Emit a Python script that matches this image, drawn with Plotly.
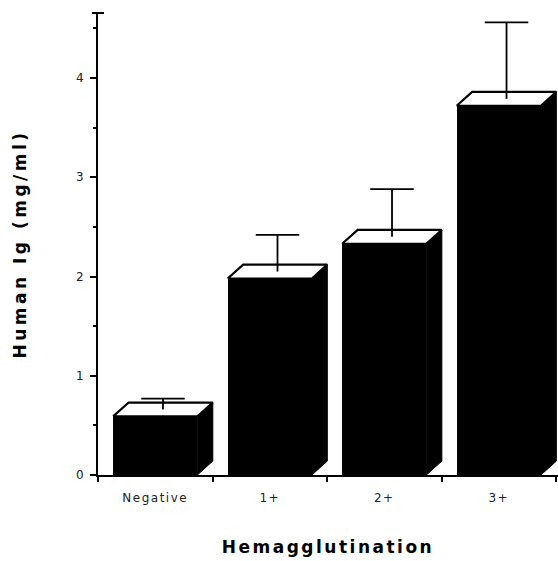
import plotly.graph_objects as go

# ---- data ----
categories = ["Negative", "1+", "2+", "3+"]
means = [0.59, 1.98, 2.33, 3.72]          # front-top height of each bar (mg/ml)
errors = [0.18, 0.44, 0.55, 0.84]         # upper error (cap above bar front top)
y_ticks = [0, 1, 2, 3, 4]

# ---- styling / geometry (not data) ----
BAR_W = 0.735      # front face width in category units
DX = 0.135         # 3-D depth, x (category units)
DY = 0.14          # 3-D depth, y (data units)
CAP = 0.19         # half width of error cap

fig = go.Figure()
xs = list(range(len(categories)))

# front faces
fig.add_trace(go.Bar(x=xs, y=means, width=BAR_W, marker=dict(color="black", line=dict(width=0)),
                     showlegend=False, hoverinfo="skip"))

for i, m, e in zip(xs, means, errors):
    l = i - BAR_W / 2
    r = i + BAR_W / 2
    # side face
    fig.add_trace(go.Scatter(x=[r, r + DX, r + DX, r, r], y=[0, DY, m + DY, m, 0],
                             fill="toself", fillcolor="black", mode="lines",
                             line=dict(color="black", width=1), showlegend=False, hoverinfo="skip"))
    # top face
    fig.add_trace(go.Scatter(x=[l, l + DX, r + DX, r, l], y=[m, m + DY, m + DY, m, m],
                             fill="toself", fillcolor="white", mode="lines",
                             line=dict(color="black", width=2.2), showlegend=False, hoverinfo="skip"))
    # error bar
    cx = i + DX / 2
    fig.add_trace(go.Scatter(x=[cx, cx, None, cx - CAP, cx + CAP],
                             y=[m + DY / 2, m + e, None, m + e, m + e],
                             mode="lines", line=dict(color="black", width=1.8),
                             showlegend=False, hoverinfo="skip"))

tick_font = dict(family="DejaVu Sans", size=12, color="#222")
title_font = dict(family="DejaVu Sans", size=17, color="black", weight="bold")

fig.update_layout(
    width=558, height=561,
    margin=dict(l=98, r=0, t=13, b=86),
    plot_bgcolor="white", paper_bgcolor="white",
    xaxis=dict(
        range=[-0.5, 3.517], tickmode="array", tickvals=xs, ticktext=categories,
        ticks="", showgrid=False, zeroline=False, showline=True, linecolor="black", linewidth=2,
        tickfont=tick_font, ticklabelstandoff=11,
        minor=dict(tickmode="linear", tick0=-0.5, dtick=1, ticks="outside", ticklen=5,
                   tickwidth=2, tickcolor="black", showgrid=False),
        title=dict(text="Hemagglutination", font=title_font, standoff=37),
    ),
    yaxis=dict(
        range=[0, 4.655], tickmode="array", tickvals=y_ticks,
        ticks="outside", ticklen=6, tickwidth=2, tickcolor="black",
        showgrid=False, zeroline=False, showline=True, linecolor="black", linewidth=2,
        tickfont=tick_font, ticklabelstandoff=4,
        minor=dict(tickmode="linear", tick0=0, dtick=0.5, ticks="outside", ticklen=3,
                   tickwidth=2, tickcolor="black", showgrid=False),
        title=dict(text="Human Ig (mg/ml)", font=title_font, standoff=45),
    ),
    bargap=0,
)

# cap on top of the y axis line
fig.add_shape(type="line", xref="paper", yref="paper", x0=-0.013, x1=0.013, y0=1, y1=1,
              line=dict(color="black", width=2))

post = """
document.body.style.margin = '0';
document.querySelectorAll('.xtitle').forEach(function(e){ e.style.letterSpacing = '2.5px'; });
document.querySelectorAll('.ytitle').forEach(function(e){ e.style.letterSpacing = '3.5px'; });
document.querySelectorAll('.xtick text').forEach(function(e){ e.style.letterSpacing = '1.5px'; });
"""
fig.write_html("out.html", post_script=post, config={"displayModeBar": False})
